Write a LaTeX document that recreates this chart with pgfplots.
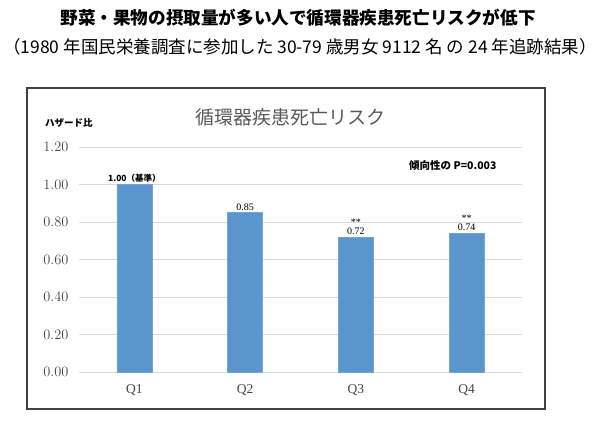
\documentclass[border=0pt]{standalone}
\usepackage{fontspec}
\usepackage{pgfplots}
\pgfplotsset{compat=1.18}
\setmainfont{Liberation Serif}
\newfontfamily\cjk{Noto Sans CJK JP}
\definecolor{barblue}{HTML}{5B95CD}
\definecolor{txtgray}{HTML}{595959}
\definecolor{tickgray}{HTML}{454545}
\definecolor{gridgray}{HTML}{D9D9D9}
\definecolor{framegray}{HTML}{404040}
\begin{document}
\begin{tikzpicture}[x=1pt,y=1pt]
\path[use as bounding box] (0,0) rectangle (600,421);
% outer frame of the chart
\draw[framegray, line width=1.5pt] (27,12) rectangle (545,333);
% headline
\node[font=\cjk\bfseries\fontsize{17.6}{20}\selectfont] at (298,403) {野菜・果物の摂取量が多い人で循環器疾患死亡リスクが低下};
\node[font=\cjk\fontsize{17.5}{20}\selectfont] at (300,374) {（1980 年国民栄養調査に参加した 30-79 歳男女 9112 名 の 24 年追跡結果）};
% chart title and notes
\node[font=\cjk\fontsize{19}{22}\selectfont, text=txtgray] at (290,304) {循環器疾患死亡リスク};
\node[font=\cjk\bfseries\fontsize{9.5}{11}\selectfont, anchor=west, inner sep=0pt] at (45,298) {ハザード比};
\node[font=\cjk\bfseries\fontsize{10.5}{12}\selectfont, anchor=west, inner sep=0pt] at (409,255) {傾向性の P=0.003};
\begin{axis}[
  at={(79pt,49pt)}, anchor=south west,
  scale only axis, width=443pt, height=225pt,
  ybar, bar width=35pt,
  xmin=-0.5, xmax=3.5, ymin=0, ymax=1.2,
  xtick=data, xticklabels={Q1,Q2,Q3,Q4},
  ytick={0,0.2,...,1.2},
  yticklabel={\pgfmathprintnumber[fixed,fixed zerofill,precision=2]{\tick}},
  axis line style={draw=none}, major tick length=0pt,
  ymajorgrids, grid style={gridgray, line width=0.9pt},
  tick label style={text=tickgray, font=\fontsize{13.5}{15}\selectfont},
  yticklabel style={xshift=-7pt},
  xticklabel style={yshift=-9pt},
  nodes near coords, point meta=explicit symbolic,
  every node near coord/.append style={font=\fontsize{10}{9}\selectfont, align=center, inner sep=2pt},
]
\addplot[fill=barblue, draw=barblue!85!white, line width=0.6pt] coordinates {
  (0,1.00) [{\cjk\bfseries\fontsize{8.5}{10}\selectfont 1.00（基準）}]
  (1,0.85) [0.85]
  (2,0.72) [**\\0.72]
  (3,0.74) [**\\0.74]
};
\end{axis}
\end{tikzpicture}
\end{document}
